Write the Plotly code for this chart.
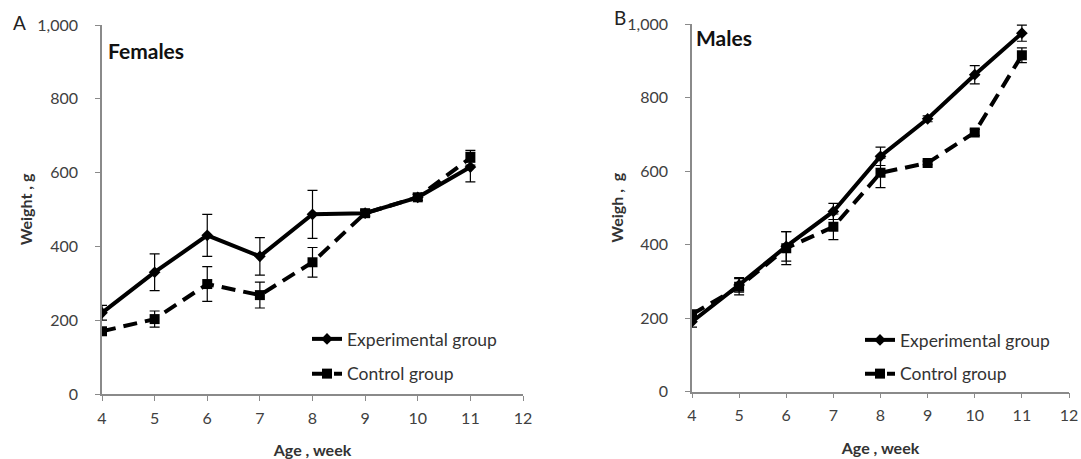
import plotly.graph_objects as go

weeks = [4, 5, 6, 7, 8, 9, 10, 11]

fem_exp = [220, 330, 430, 373, 487, 490, 533, 615]
fem_exp_err = [20, 50, 57, 51, 65, 8, 8, 40]
fem_ctl = [170, 203, 298, 268, 357, 490, 533, 640]
fem_ctl_err = [10, 22, 47, 35, 40, 8, 8, 20]

mal_exp = [190, 290, 395, 490, 640, 742, 862, 975]
mal_exp_err = [15, 20, 40, 22, 25, 8, 25, 22]
mal_ctl = [210, 285, 390, 448, 595, 622, 705, 915]
mal_ctl_err = [10, 22, 45, 35, 40, 5, 8, 20]

x_ticks = [4, 5, 6, 7, 8, 9, 10, 11, 12]
y_ticks = [0, 200, 400, 600, 800, 1000]

FONT = "Lato, Open Sans, sans-serif"
W, H = 1081, 459


def px(x):
    return x / W


def py(y):
    return 1 - y / H


fig = go.Figure()


def add_pair(exp, exp_err, ctl, ctl_err, xa, ya, leg):
    fig.add_trace(go.Scatter(
        x=weeks, y=exp, name="Experimental group", mode="lines+markers",
        xaxis=xa, yaxis=ya, legend=leg, legendgroup=leg + "e",
        line=dict(color="black", width=4),
        marker=dict(symbol="diamond", size=9, color="black"),
        error_y=dict(type="data", array=exp_err, color="black", thickness=1.2, width=5),
    ))
    fig.add_trace(go.Scatter(
        x=weeks, y=ctl, name="Control group", mode="lines+markers",
        xaxis=xa, yaxis=ya, legend=leg, legendgroup=leg + "c",
        line=dict(color="black", width=4, dash="14px,8px"),
        marker=dict(symbol="square", size=10, color="black"),
        error_y=dict(type="data", array=ctl_err, color="black", thickness=1.2, width=5),
    ))


add_pair(fem_exp, fem_exp_err, fem_ctl, fem_ctl_err, "x", "y", "legend")
add_pair(mal_exp, mal_exp_err, mal_ctl, mal_ctl_err, "x2", "y2", "legend2")

axis_common = dict(
    showgrid=False, zeroline=False, showline=True, linecolor="#8a8a8a", linewidth=1.5,
    ticks="outside", tickcolor="#8a8a8a", ticklen=5, tickwidth=1.2,
    tickfont=dict(family=FONT, size=16, color="#404040"), automargin=False,
)


def xax(domain, anchor, standoff):
    return dict(axis_common, domain=domain, anchor=anchor, range=[4, 12],
                tickvals=x_ticks, ticklabelstandoff=4,
                title=dict(text="<b>Age , week</b>", font=dict(family=FONT, size=16, color="#333"),
                           standoff=standoff))


def yax(domain, anchor, title, standoff):
    return dict(axis_common, domain=domain, anchor=anchor, range=[0, 1000],
                tickvals=y_ticks, tickformat=",d", ticklabelstandoff=14,
                title=dict(text="<b>" + title + "</b>", font=dict(family=FONT, size=16, color="#333"),
                           standoff=standoff))


fig.update_layout(
    width=W, height=H,
    margin=dict(l=0, r=0, t=0, b=0),
    paper_bgcolor="white", plot_bgcolor="white",
    showlegend=True,
    xaxis=xax([px(102), px(523)], "y", 22),
    yaxis=yax([py(394), py(25)], "x", "Weight , g", 1),
    xaxis2=xax([px(692), px(1069)], "y2", 19),
    yaxis2=yax([py(391.5), py(24)], "x2", "Weigh ,  g", 0),
    legend=dict(x=px(307), y=py(321), xanchor="left", yanchor="top",
                font=dict(family=FONT, size=17.5, color="#333"), bgcolor="rgba(0,0,0,0)",
                traceorder="grouped", tracegroupgap=9),
    legend2=dict(x=px(860), y=py(322), xanchor="left", yanchor="top",
                 font=dict(family=FONT, size=17.5, color="#333"), bgcolor="rgba(0,0,0,0)",
                 traceorder="grouped", tracegroupgap=8),
    annotations=[
        dict(text="A", x=px(11), y=py(22.7), xref="paper", yref="paper", xanchor="left", yanchor="middle",
             showarrow=False, font=dict(family=FONT, size=19, color="#222")),
        dict(text="B", x=px(612), y=py(18), xref="paper", yref="paper", xanchor="left", yanchor="middle",
             showarrow=False, font=dict(family=FONT, size=19, color="#222")),
        dict(text="<b>Females</b>", x=px(105.5), y=py(50), xref="paper", yref="paper", xanchor="left",
             yanchor="middle", showarrow=False, font=dict(family=FONT, size=21, color="#111")),
        dict(text="<b>Males</b>", x=px(694), y=py(37.7), xref="paper", yref="paper", xanchor="left",
             yanchor="middle", showarrow=False, font=dict(family=FONT, size=21, color="#111")),
    ],
)

fig.write_html("out.html", config={"displayModeBar": False},
               post_script="document.body.style.margin='0px';")
